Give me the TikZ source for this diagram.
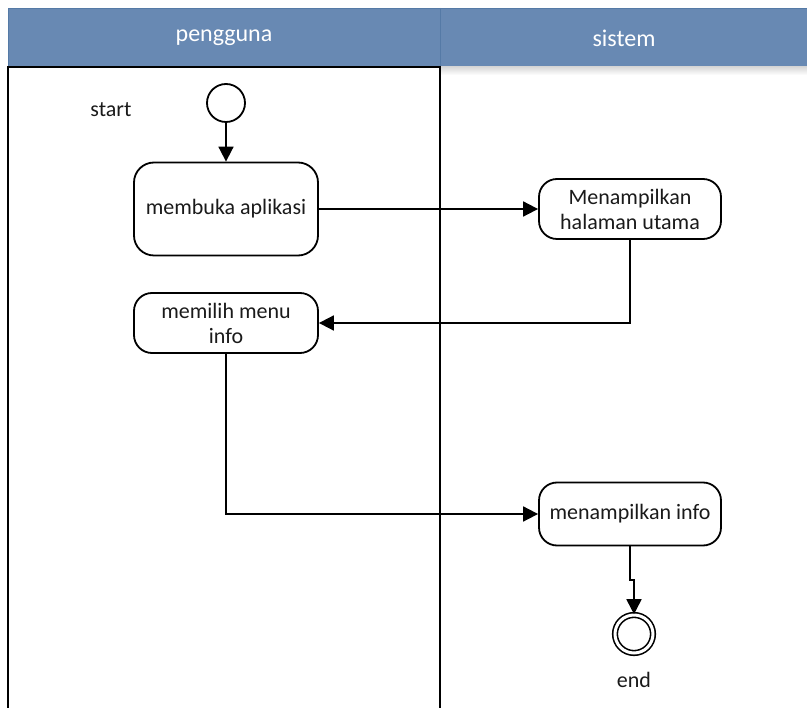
\documentclass[tikz,border=0pt]{standalone}
\usepackage{fontspec}
\setmainfont{Carlito}
\usepackage{tikz}
\usetikzlibrary{positioning}
\usetikzlibrary{arrows.meta}
\definecolor{headblue}{HTML}{6889B3}
\definecolor{headedge}{HTML}{557AA6}
\definecolor{inktext}{HTML}{1A1A1A}

\begin{document}
\begin{tikzpicture}[x=1pt, y=-1pt, line width=1.8pt,
    every node/.style={font=\fontsize{22}{25}\selectfont, text=inktext},
    activity/.style={draw, rounded corners=20pt, align=center, inner sep=2pt},
    lanetitle/.style={font=\fontsize{24}{26}\selectfont, text=white},
    flow/.style={-{Triangle[length=15pt, width=15pt]}}]
                \useasboundingbox (0,0) rectangle (807,708);

                % Lanes
                \fill[headblue] (8,8) rectangle (807,67);
                \draw[headedge, line width=0.8pt] (8,8) rectangle (807,67);
                \draw[headedge, line width=0.8pt] (440,8) -- (440,67);
                \shade[top color=black!15, bottom color=white, draw=none] (441,67) rectangle (807,75);
                \draw (8,708) -- (8,67) -- (440,67) -- (440,708);
                \node at (224,38) (pengguna) [lanetitle] {pengguna};
                \node at (624,38) (sistem) [lanetitle] {sistem};

                % Nodes
                \node at (226,103) (start) [draw, circle, minimum size=38pt, inner sep=0pt] {};
                \node at (111,110) (startlbl) {start};
                \node at (226,209) (buka) [activity, minimum width=184pt, minimum height=93pt] {membuka aplikasi};
                \node at (630,209) (tampil) [activity, rounded corners=18pt, minimum width=182pt, minimum height=60pt] {Menampilkan\\halaman utama};
                \node at (226,323) (menu) [activity, rounded corners=18pt, minimum width=184pt, minimum height=60pt] {memilih menu\\info};
                \node at (630,514) (info) [activity, rounded corners=18pt, minimum width=182pt, minimum height=63pt] {menampilkan info};
                \node at (634,634) (end) [draw, circle, double, double distance=3pt, line width=1.6pt, minimum size=38pt, inner sep=0pt] {};
                \node at (634,680) (endlbl) {end};

                % Arrows
                \draw[flow] (start) -- (buka);
                \draw[flow] (buka) -- (tampil);
                \draw[flow] (tampil.south) |- (menu.east);
                \draw[flow] (menu.south) |- (info.west);
                \draw[flow] (info.south) -- ++(0,34) -| (end);
            \end{tikzpicture}
\end{document}
